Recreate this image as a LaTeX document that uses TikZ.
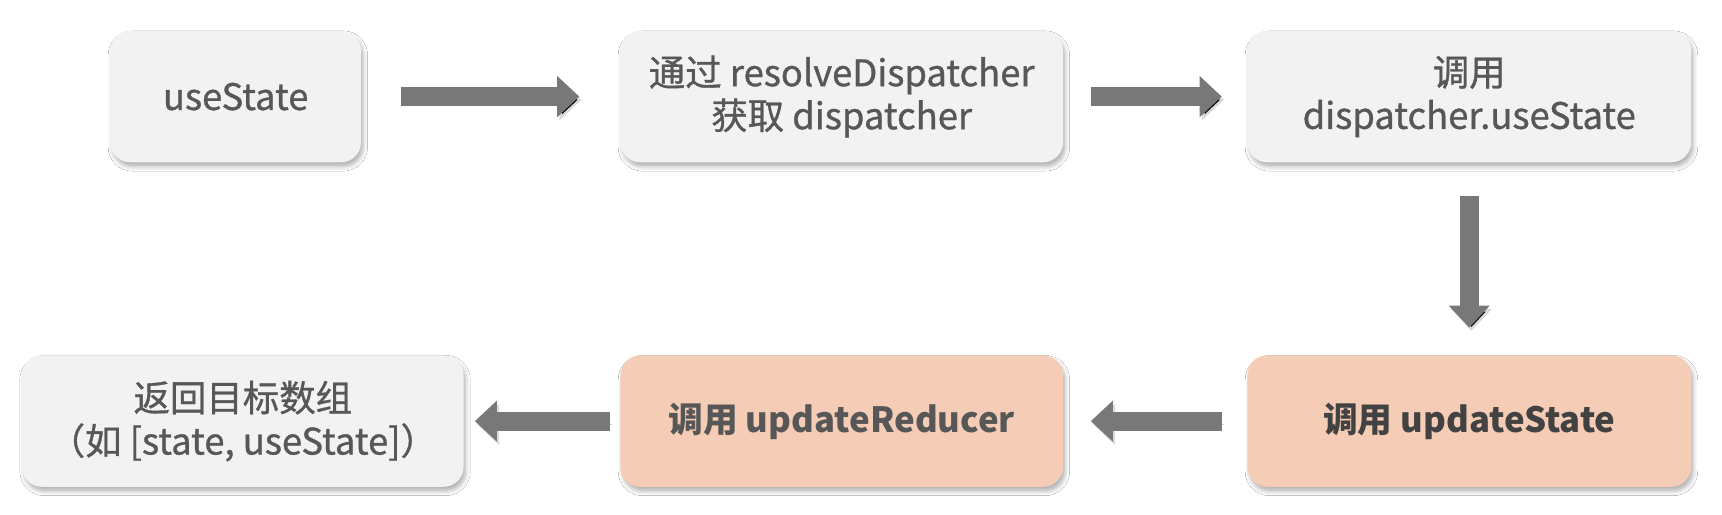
\documentclass[tikz,border=0pt]{standalone}
\usepackage{fontspec}
\setmainfont{Noto Sans CJK SC}
\newfontfamily\medfont{Noto Sans CJK SC}[FakeBold=0.9]
\usetikzlibrary{arrows.meta,shadows.blur}
\definecolor{boxgray}{HTML}{F2F2F2}
\definecolor{boxorange}{HTML}{F5CDB7}
\definecolor{arrgray}{HTML}{787878}
\definecolor{txtgray}{HTML}{575757}
\definecolor{txtdark}{HTML}{424242}
\begin{document}
\begin{tikzpicture}[x=1pt,y=-1pt,
  box/.style={rounded corners=18pt, minimum height=119pt, align=center, inner sep=0pt,
    text=txtgray, font=\medfont\fontsize{33}{39}\selectfont,
    blur shadow={shadow xshift=2pt, shadow yshift=-4pt, shadow blur radius=4pt, shadow opacity=30}},
  graybox/.style={box, fill=boxgray},
  orangebox/.style={box, fill=boxorange, font=\fontsize{31.5}{39}\selectfont\bfseries},
  bigarrow/.style={draw=arrgray, line width=17pt, -{Triangle[width=36pt,length=20pt]},
    preaction={draw=black, draw opacity=0.15, transform canvas={xshift=2pt,yshift=-3pt}}}]
\fill[white] (0,0) rectangle (1560,466);
\useasboundingbox (0,0) rectangle (1560,466);
\node[graybox, minimum width=227pt] (b1) at (213.5,87.5) {useState};
\node[graybox, minimum width=401pt] (b2) at (762.5,87.5) {通过 resolveDispatcher\\获取 dispatcher};
\node[graybox, minimum width=402pt] (b3) at (1331,87.5) {调用\\dispatcher.useState};
\node[orangebox, minimum width=402pt, text=txtdark] (b6) at (1331,381.5) {调用 updateState};
\node[orangebox, minimum width=401pt] (b5) at (762.5,381.5) {调用 updateReducer};
\node[graybox, minimum width=400pt] (b4) at (220,381.5) {返回目标数组\\（如 [state, useState]）};
\draw[bigarrow, shorten <=36pt, shorten >=37pt] (b1.east) -- (b2.west);
\draw[bigarrow, shorten <=25pt, shorten >=23pt] (b2.east) -- (b3.west);
\draw[bigarrow, shorten <=30pt, shorten >=25pt] (b3.south) -- (b6.north);
\draw[bigarrow, shorten <=23pt, shorten >=25pt] (b6.west) -- (b5.east);
\draw[bigarrow, shorten <=9pt, shorten >=10pt] (b5.west) -- (b4.east);
\end{tikzpicture}
\end{document}
